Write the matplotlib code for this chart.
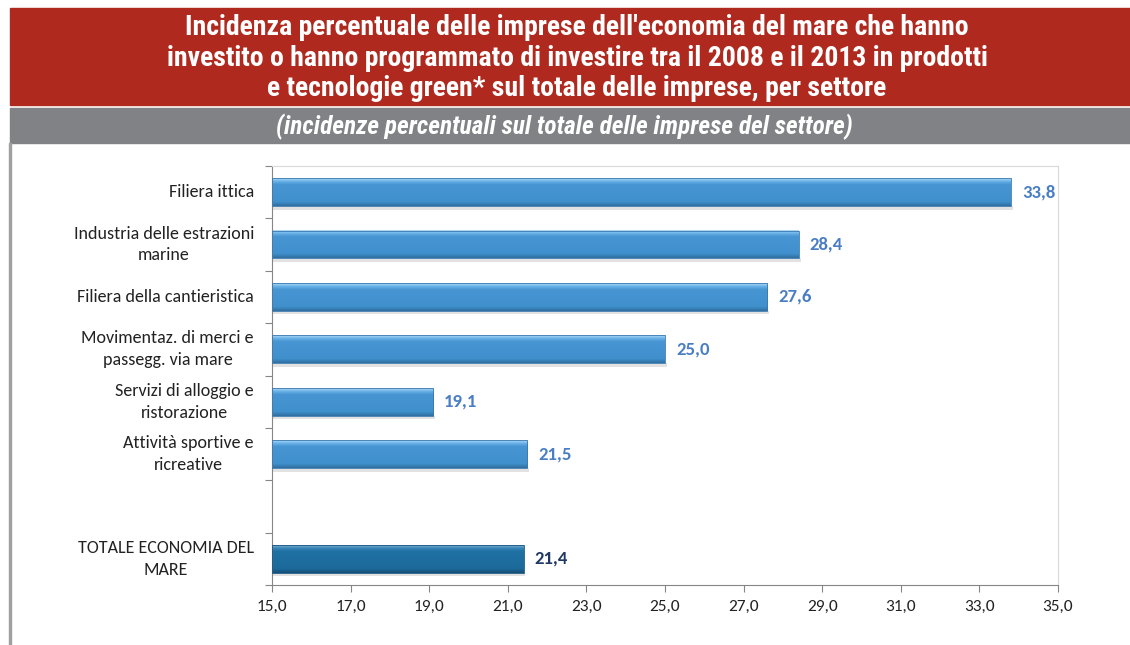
import numpy as np
import matplotlib
matplotlib.use("Agg")
from matplotlib import pyplot as plt
from matplotlib.patches import Rectangle
from matplotlib.colors import LinearSegmentedColormap

# data
categories = ["Filiera ittica",
              "Industria delle estrazioni\nmarine",
              "Filiera della cantieristica",
              "Movimentaz. di merci e\npassegg. via mare",
              "Servizi di alloggio e\nristorazione",
              "Attività sportive e\nricreative",
              "",
              "TOTALE ECONOMIA DEL\nMARE"]
values = [33.8, 28.4, 27.6, 25.0, 19.1, 21.5, None, 21.4]
labels = ["33,8", "28,4", "27,6", "25,0", "19,1", "21,5", "", "21,4"]
xticks = [15, 17, 19, 21, 23, 25, 27, 29, 31, 33, 35]

title = ("Incidenza percentuale delle imprese dell'economia del mare che hanno\n"
         "investito o hanno programmato di investire tra il 2008 e il 2013 in prodotti\n"
         "e tecnologie green* sul totale delle imprese, per settore")
subtitle = "(incidenze percentuali sul totale delle imprese del settore)"

HEAD = ["Roboto Condensed", "DejaVu Sans"]
BODY = ["Carlito", "DejaVu Sans"]

W, H = 1130, 645
fig = plt.figure(figsize=(W / 100, H / 100), dpi=100)
fig.patch.set_facecolor("white")

# banners
fig.patches.append(Rectangle((10 / W, 1 - 105 / H), 1, 97 / H, transform=fig.transFigure,
                             color="#B0291E", zorder=0))
fig.patches.append(Rectangle((10 / W, 1 - 143 / H), 1, 35 / H, transform=fig.transFigure,
                             color="#818285", zorder=0))
fig.patches.append(Rectangle((9 / W, 0), 2 / W, 1 - 143 / H, transform=fig.transFigure,
                             color="#A0A0A0", zorder=0))
fig.text(577 / W, 1 - 58 / H, title, ha="center", va="center", color="white",
         fontsize=20, fontweight="bold", linespacing=1.17, family=HEAD)
fig.text(564 / W, 1 - 127 / H, subtitle, ha="center", va="center", color="white",
         fontsize=18.3, fontweight="bold", style="italic", family=HEAD)

ax = fig.add_axes([272 / W, 1 - 585 / H, (1058 - 272) / W, (585 - 166) / H])
n = len(categories)

cm_light = LinearSegmentedColormap.from_list(
    "l", [(0, "#B5DCF6"), (0.1, "#6DB4E8"), (0.22, "#4796D3"), (0.85, "#4090CD"), (1, "#2F6E9F")])
cm_dark = LinearSegmentedColormap.from_list(
    "d", [(0, "#7FB0D2"), (0.1, "#3A86B8"), (0.22, "#1F71A3"), (0.85, "#1C6A9B"), (1, "#144E76")])
grad = np.linspace(0, 1, 80).reshape(-1, 1)
bh = 0.53
for i, v in enumerate(values):
    if v is None:
        continue
    y = i + 0.5
    total = i == n - 1
    cmap = cm_dark if total else cm_light
    # soft shadow under the bar
    ax.add_patch(Rectangle((15, y + bh / 2), v - 15 + 0.05, 0.07, color="#CFCFCF",
                           alpha=0.6, lw=0, zorder=1))
    ax.imshow(grad, cmap=cmap, aspect="auto", extent=(15, v, y + bh / 2, y - bh / 2),
              zorder=2, interpolation="bilinear")
    ax.add_patch(Rectangle((15, y - bh / 2), v - 15, bh, fill=False,
                           edgecolor="#3A78AE" if not total else "#17557F", lw=0.6, zorder=3))
    ax.text(v + 0.28, y, labels[i], ha="left", va="center", fontsize=13.5, fontweight="bold",
            color="#1F3864" if total else "#4A7EC4", family=BODY)

ax.set_ylim(n, 0)
ax.set_xlim(15, 35)
ax.set_xticks(xticks)
ax.set_xticklabels([f"{t:.1f}".replace(".", ",") for t in xticks],
                   fontsize=12.5, family=BODY, color="#222222")
ax.set_yticks(np.arange(n + 1))
ax.set_yticklabels([])
ax.set_yticks(np.arange(n) + 0.5, minor=True)
ax.set_yticklabels(categories, minor=True, fontsize=13, family=BODY, va="center",
                   color="#222222", multialignment="center", linespacing=1.45)
ax.tick_params(axis="y", which="minor", length=0, pad=13)
ax.tick_params(axis="y", which="major", length=5, color="#868686")
ax.tick_params(axis="x", length=5, color="#868686", pad=6)
for s in ["left", "bottom"]:
    ax.spines[s].set_color("#868686")
for s in ["top", "right"]:
    ax.spines[s].set_color("#D9D9D9")

fig.savefig("out.png", dpi=100)
